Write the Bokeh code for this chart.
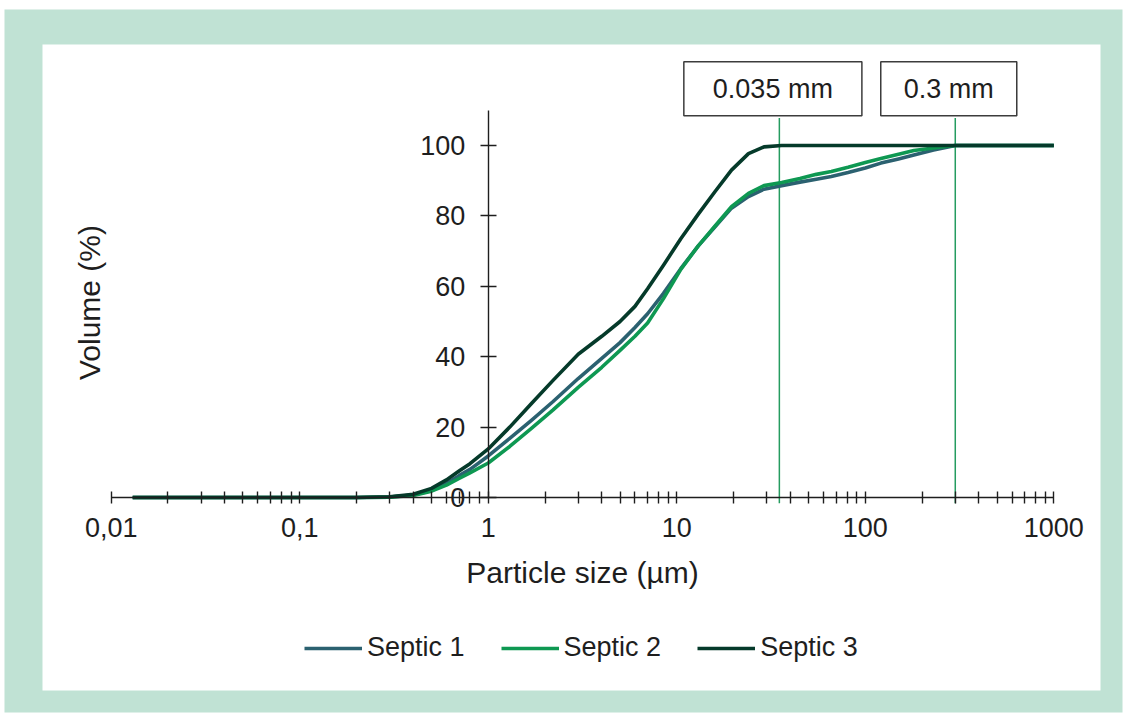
import math
from bokeh.plotting import figure
from bokeh.models import (FixedTicker, LinearAxis, LogAxis, Range1d, Label, Legend,
                          LegendItem, BoxAnnotation)
from bokeh.embed import file_html
from bokeh.resources import INLINE

# ---------------- data ----------------
size_um = [0.013, 0.02, 0.05, 0.1, 0.2, 0.3, 0.4, 0.5, 0.6, 0.7, 0.8, 1.0, 1.3, 1.7,
           2.2, 3.0, 4.0, 5.0, 6.0, 7.0, 8.5, 10.5, 13, 16, 19.5, 24, 29, 36, 45, 55,
           66, 81, 100, 121, 150, 181, 230, 275, 300, 400, 600, 1000]
septic1 = [0, 0, 0, 0, 0, 0.1, 0.7, 2.0, 4.0, 6.2, 8.0, 11.8, 16.8, 22.0, 27.2, 33.8,
           39.5, 44.0, 48.3, 52.2, 58.0, 65.0, 71.5, 77.0, 82.2, 85.5, 87.6, 88.6,
           89.6, 90.4, 91.2, 92.3, 93.6, 95.0, 96.2, 97.3, 98.7, 99.6, 100, 100, 100, 100]
septic2 = [0, 0, 0, 0, 0, 0.1, 0.6, 1.8, 3.5, 5.4, 7.0, 9.8, 14.5, 19.7, 24.8, 31.3,
           37.0, 41.8, 45.8, 49.6, 56.5, 64.8, 71.5, 77.2, 82.6, 86.4, 88.6, 89.5,
           90.6, 91.8, 92.6, 93.8, 95.2, 96.3, 97.5, 98.6, 99.3, 99.8, 100, 100, 100, 100]
septic3 = [0, 0, 0, 0, 0, 0.2, 0.9, 2.6, 5.0, 7.5, 9.6, 13.8, 20.0, 26.8, 33.2, 40.7,
           45.8, 50.0, 54.3, 59.3, 66.0, 73.5, 80.5, 87.0, 93.0, 97.7, 99.6, 100, 100,
           100, 100, 100, 100, 100, 100, 100, 100, 100, 100, 100, 100, 100]
series_names = ["Septic 1", "Septic 2", "Septic 3"]
series_colors = ["#2b6170", "#0e9852", "#053a2a"]

cutoffs_um = [35, 300]
cutoff_labels = ["0.035 mm", "0.3 mm"]

x_ticks = [0.01, 0.1, 1, 10, 100, 1000]
x_tick_labels = ["0,01", "0,1", "1", "10", "100", "1000"]
x_minor_ticks = [m * 10.0 ** e for e in range(-2, 3) for m in range(2, 10)]
y_ticks = [0, 20, 40, 60, 80, 100]

FONT = "Liberation Sans"
TXT = "#1e1e1e"
AX = "#1e1e1e"

# ---------------- geometry (canvas pixels) ----------------
W, H = 1126, 716
PX_X001, PX_PER_DEC = 110.7, 188.53      # pixel of x=0.01, pixels per decade
PX_Y0, PX_PER_UNIT = 497.0, 3.52         # pixel of y=0, pixels per %

x_lo = 10 ** (-2 - PX_X001 / PX_PER_DEC)
x_hi = 10 ** (-2 + (W - PX_X001) / PX_PER_DEC)
y_lo = -(H - PX_Y0) / PX_PER_UNIT
y_hi = PX_Y0 / PX_PER_UNIT

p = figure(width=W, height=H, x_axis_type="log",
           x_range=Range1d(x_lo, x_hi), y_range=Range1d(y_lo, y_hi),
           x_axis_location=None, y_axis_location=None,
           toolbar_location=None, output_backend="svg",
           min_border_left=0, min_border_right=0,
           min_border_top=0, min_border_bottom=0)
p.outline_line_color = None
p.background_fill_color = "white"
p.border_fill_color = "white"
p.grid.grid_line_color = None

# green frame
p.add_layout(BoxAnnotation(left=4, right=1122, top=9, bottom=712,
                           left_units="canvas", right_units="canvas",
                           top_units="canvas", bottom_units="canvas",
                           fill_color="#c0e2d4", fill_alpha=1.0, line_color=None,
                           level="underlay"))
p.add_layout(BoxAnnotation(left=42, right=1100, top=44, bottom=690,
                           left_units="canvas", right_units="canvas",
                           top_units="canvas", bottom_units="canvas",
                           fill_color="white", fill_alpha=1.0, line_color=None,
                           level="underlay"))

# x axis crossing at y = 0
xaxis = LogAxis(ticker=FixedTicker(ticks=x_ticks, minor_ticks=x_minor_ticks),
                fixed_location=0, bounds=(0.01, 1000),
                major_label_overrides=dict(zip(x_ticks, x_tick_labels)),
                axis_label="Particle size (µm)")
xaxis.major_tick_in = 6
xaxis.major_tick_out = 6
xaxis.minor_tick_in = 6
xaxis.minor_tick_out = 6
xaxis.major_label_standoff = 14
xaxis.axis_label_standoff = 16
p.add_layout(xaxis, "below")

# y axis crossing at x = 1
yaxis = LinearAxis(ticker=FixedTicker(ticks=y_ticks), fixed_location=1, bounds=(0, 110))
yaxis.major_tick_in = 8
yaxis.major_tick_out = 8
yaxis.minor_tick_in = 0
yaxis.minor_tick_out = 0
yaxis.major_label_standoff = 15
p.add_layout(yaxis, "left")

for ax in (xaxis, yaxis):
    ax.axis_line_color = AX
    ax.axis_line_width = 1.4
    ax.major_tick_line_color = AX
    ax.major_tick_line_width = 1.4
    ax.minor_tick_line_color = AX
    ax.minor_tick_line_width = 1.4
    ax.major_label_text_font = FONT
    ax.major_label_text_font_size = "27px"
    ax.major_label_text_color = TXT
    ax.axis_label_text_font = FONT
    ax.axis_label_text_font_size = "30px"
    ax.axis_label_text_font_style = "normal"
    ax.axis_label_text_color = TXT

# y axis title
p.add_layout(Label(x=89, y=H - 302, x_units="screen", y_units="screen",
                   text="Volume (%)", angle=90, angle_units="deg",
                   text_align="center", text_baseline="middle",
                   text_font=FONT, text_font_size="30px", text_color=TXT))

# cutoff lines
p.segment(x0=cutoffs_um, x1=cutoffs_um, y0=-1.6, y1=107.8,
          line_color="#259c60", line_width=1.5)

# curves
renderers = []
for vals, col in zip([septic1, septic2, septic3], series_colors):
    r = p.line(size_um, vals, line_color=col, line_width=3.6, line_join="round")
    renderers.append(r)

# cutoff boxes
pads = [(29, 12), (23, 12)]
for c, lab, pad in zip(cutoffs_um, cutoff_labels, pads):
    p.add_layout(Label(x=c, y=116.1, x_units="data", y_units="data", text=lab,
                       x_offset=-6.5, text_align="center", text_baseline="middle",
                       text_font=FONT, text_font_size="27px", text_color=TXT,
                       border_line_color="#3c3c3c", border_line_width=1.5,
                       background_fill_color="white", padding=pad))

legend = Legend(items=[LegendItem(label=n, renderers=[r]) for n, r in zip(series_names, renderers)],
                orientation="horizontal", location=(304, H - 663))
legend.border_line_color = None
legend.background_fill_alpha = 0
legend.padding = 0
legend.margin = 0
legend.spacing = 36
legend.glyph_width = 58
legend.glyph_height = 30
legend.label_height = 30
legend.label_standoff = 5
legend.label_text_font = FONT
legend.label_text_font_size = "27px"
legend.label_text_color = TXT
p.add_layout(legend, "center")

open("out.html", "w").write(file_html(p, INLINE))
